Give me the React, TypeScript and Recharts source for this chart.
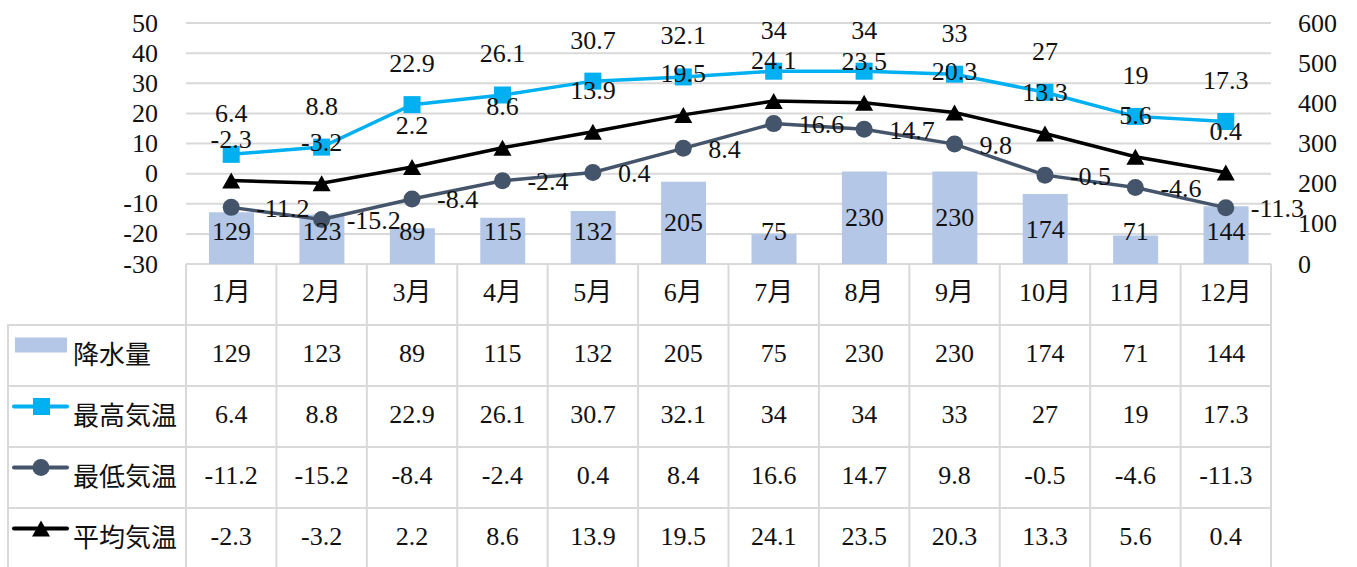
import React from "react";
import { ComposedChart, Bar, Line, XAxis, YAxis, CartesianGrid, LabelList } from "recharts";

const months = ["1月", "2月", "3月", "4月", "5月", "6月", "7月", "8月", "9月", "10月", "11月", "12月"];
const precipitation = [129, 123, 89, 115, 132, 205, 75, 230, 230, 174, 71, 144];
const maxTemp = [6.4, 8.8, 22.9, 26.1, 30.7, 32.1, 34, 34, 33, 27, 19, 17.3];
const minTemp = [-11.2, -15.2, -8.4, -2.4, 0.4, 8.4, 16.6, 14.7, 9.8, -0.5, -4.6, -11.3];
const avgTemp = [-2.3, -3.2, 2.2, 8.6, 13.9, 19.5, 24.1, 23.5, 20.3, 13.3, 5.6, 0.4];

const tempTicks = [-30, -20, -10, 0, 10, 20, 30, 40, 50];
const rainTicks = [0, 100, 200, 300, 400, 500, 600];

const WIDTH = 1357;
const HEIGHT = 567;
const PLOT_LEFT = 186;
const PLOT_RIGHT = 1271;
const PLOT_TOP = 23;
const PLOT_BOTTOM = 264;
const ROW_H = 61;

const SERIF = "'Liberation Serif', 'Noto Sans CJK JP', serif";
const GOTHIC = "'Noto Sans CJK JP', sans-serif";
const FONT_SIZE = 26;
const TEXT = "#111111";
const GRID = "#d9d9d9";
const COLORS = { rain: "#b4c7e7", max: "#00b0f0", min: "#44546a", avg: "#000000" };

const data = months.map((month, i) => ({
  month,
  rain: precipitation[i],
  max: maxTemp[i],
  min: minTemp[i],
  avg: avgTemp[i],
}));

const tableRows = [
  { key: "rain", label: "降水量", values: precipitation },
  { key: "max", label: "最高気温", values: maxTemp },
  { key: "min", label: "最低気温", values: minTemp },
  { key: "avg", label: "平均気温", values: avgTemp },
];

const serifStyle = { fontFamily: SERIF, fontSize: FONT_SIZE };

function pos(props: any) {
  const vb = props.viewBox || {};
  return {
    x: Number(props.x ?? vb.x ?? 0),
    y: Number(props.y ?? vb.y ?? 0),
    width: Number(props.width ?? vb.width ?? 0),
    height: Number(props.height ?? vb.height ?? 0),
  };
}

function labelText(x: number, y: number, value: any, anchor: "start" | "middle" | "end", key?: string) {
  return (
    <text key={key} x={x} y={y} textAnchor={anchor} dominantBaseline="central" style={serifStyle} fill={TEXT}>
      {value}
    </text>
  );
}

const barLabel = (props: any) => {
  const { x, y, width, height } = pos(props);
  // small bars: label sits near the bottom instead of the middle
  const cy = Math.min(y + height / 2, 231);
  return labelText(x + width / 2, cy, props.value, "middle");
};
const aboveLabel = (props: any) => {
  const { x, y } = pos(props);
  return labelText(x, y - 41, props.value, "middle");
};
const rightLabel = (props: any) => {
  const { x, y } = pos(props);
  return labelText(x + 25, y + 1, props.value, "start");
};

const leftTick = (p: any) => labelText(p.x, p.y, p.payload.value, "end", `l-${p.index}`);
const rightTick = (p: any) => labelText(p.x, p.y, p.payload.value, "start", `r-${p.index}`);
const monthTick = (p: any) => labelText(p.x, 292, p.payload.value, "middle", `m-${p.index}`);

const squareDot = (p: any) => (
  <rect key={`sq-${p.index}`} x={p.cx - 8.5} y={p.cy - 8.5} width={17} height={17} fill={COLORS.max} />
);
const circleDot = (p: any) => <circle key={`ci-${p.index}`} cx={p.cx} cy={p.cy} r={8.5} fill={COLORS.min} />;
const triangleDot = (p: any) => (
  <polygon
    key={`tr-${p.index}`}
    points={`${p.cx},${p.cy - 8} ${p.cx - 9},${p.cy + 8} ${p.cx + 9},${p.cy + 8}`}
    fill={COLORS.avg}
  />
);

function LegendKey({ kind, y }: { kind: string; y: number }) {
  if (kind === "rain") {
    return <rect x={15} y={y - 8} width={52} height={15} fill={COLORS.rain} />;
  }
  const color = (COLORS as any)[kind];
  return (
    <g>
      <line x1={14} x2={67} y1={y} y2={y} stroke={color} strokeWidth={4} strokeLinecap="round" />
      {kind === "max" && <rect x={33} y={y - 8.5} width={17} height={17} fill={color} />}
      {kind === "min" && <circle cx={41} cy={y} r={8.5} fill={color} />}
      {kind === "avg" && <polygon points={`41,${y - 8} 32,${y + 8} 50,${y + 8}`} fill={color} />}
    </g>
  );
}

function DataTable() {
  const colW = (PLOT_RIGHT - PLOT_LEFT) / months.length;
  const headerBottom = PLOT_BOTTOM + ROW_H;
  const lines: React.ReactNode[] = [];
  for (let i = 0; i <= months.length; i++) {
    const x = PLOT_LEFT + i * colW;
    lines.push(<line key={`v${i}`} x1={x} x2={x} y1={PLOT_BOTTOM} y2={HEIGHT + 5} stroke={GRID} strokeWidth={2} />);
  }
  lines.push(<line key="vleft" x1={8} x2={8} y1={headerBottom} y2={HEIGHT + 5} stroke={GRID} strokeWidth={2} />);
  lines.push(
    <line key="htop" x1={PLOT_LEFT} x2={PLOT_RIGHT} y1={PLOT_BOTTOM} y2={PLOT_BOTTOM} stroke={GRID} strokeWidth={2} />
  );
  tableRows.forEach((_, r) => {
    const y = headerBottom + r * ROW_H;
    lines.push(<line key={`h${r}`} x1={7} x2={PLOT_RIGHT + 1} y1={y} y2={y} stroke={GRID} strokeWidth={2} />);
  });

  return (
    <svg width={WIDTH} height={HEIGHT} style={{ position: "absolute", left: 0, top: 0 }}>
      {lines}
      {tableRows.map((row, r) => {
        const cy = headerBottom + r * ROW_H + ROW_H / 2;
        return (
          <g key={row.key}>
            <LegendKey kind={row.key} y={cy - 10} />
            <text
              x={73}
              y={cy - 3}
              dominantBaseline="central"
              style={{ fontFamily: GOTHIC, fontSize: FONT_SIZE }}
              fill={TEXT}
            >
              {row.label}
            </text>
            {row.values.map((v, i) => labelText(PLOT_LEFT + (i + 0.5) * colW, cy - 2, v, "middle", `${row.key}-${i}`))}
          </g>
        );
      })}
    </svg>
  );
}

export default function App() {
  return (
    <div style={{ position: "absolute", left: 0, top: 0, width: WIDTH, height: HEIGHT, background: "#fff" }}>
      <DataTable />
      <div style={{ position: "absolute", left: 0, top: 0 }}>
        <ComposedChart width={WIDTH} height={HEIGHT} data={data} margin={{ top: PLOT_TOP, right: 0, bottom: 0, left: 0 }}>
          <CartesianGrid yAxisId="left" vertical={false} stroke={GRID} strokeWidth={2} />
          <XAxis
            dataKey="month"
            height={HEIGHT - PLOT_BOTTOM}
            axisLine={false}
            tickLine={false}
            tickSize={0}
            tickMargin={18}
            interval={0}
            tick={monthTick}
          />
          <YAxis
            yAxisId="left"
            orientation="left"
            width={PLOT_LEFT}
            domain={[-30, 50]}
            ticks={tempTicks}
            interval={0}
            axisLine={false}
            tickLine={false}
            tickSize={0}
            tickMargin={28}
            tick={leftTick}
          />
          <YAxis
            yAxisId="right"
            orientation="right"
            width={WIDTH - PLOT_RIGHT}
            domain={[0, 600]}
            ticks={rainTicks}
            interval={0}
            axisLine={false}
            tickLine={false}
            tickSize={0}
            tickMargin={27}
            tick={rightTick}
          />
          <Bar yAxisId="right" dataKey="rain" fill={COLORS.rain} barSize={45} isAnimationActive={false}>
            <LabelList dataKey="rain" content={barLabel} />
          </Bar>
          <Line
            yAxisId="left"
            dataKey="max"
            stroke={COLORS.max}
            strokeWidth={3.5}
            dot={squareDot}
            activeDot={false}
            isAnimationActive={false}
          >
            <LabelList dataKey="max" content={aboveLabel} />
          </Line>
          <Line
            yAxisId="left"
            dataKey="min"
            stroke={COLORS.min}
            strokeWidth={3.5}
            dot={circleDot}
            activeDot={false}
            isAnimationActive={false}
          >
            <LabelList dataKey="min" content={rightLabel} />
          </Line>
          <Line
            yAxisId="left"
            dataKey="avg"
            stroke={COLORS.avg}
            strokeWidth={3.5}
            dot={triangleDot}
            activeDot={false}
            isAnimationActive={false}
          >
            <LabelList dataKey="avg" content={aboveLabel} />
          </Line>
        </ComposedChart>
      </div>
    </div>
  );
}
